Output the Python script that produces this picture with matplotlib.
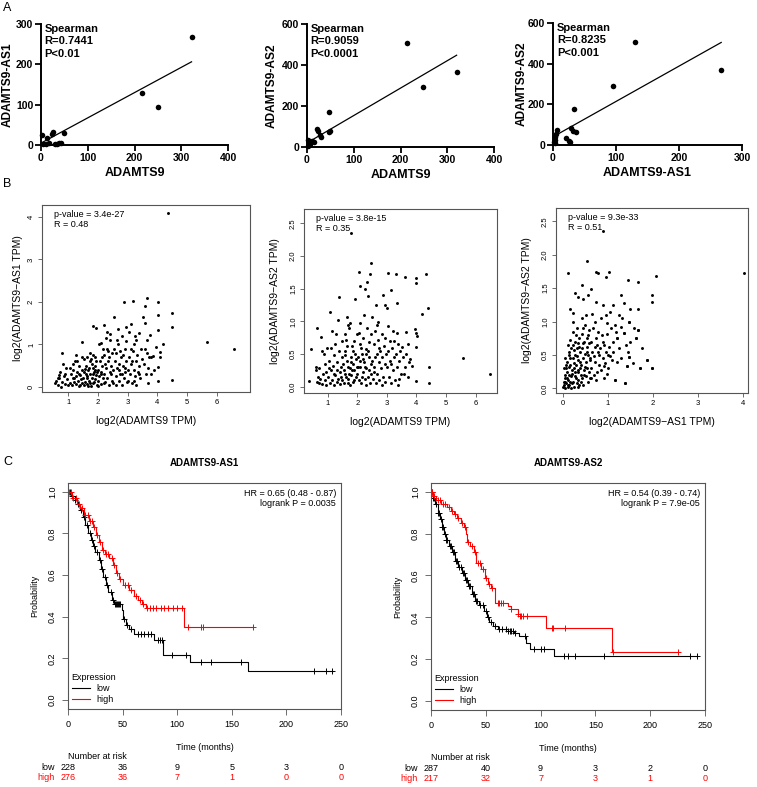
import matplotlib
matplotlib.use("Agg")
import matplotlib.pyplot as plt
from matplotlib.lines import Line2D
import numpy as np

plt.rcParams['font.family'] = ['Liberation Sans', 'DejaVu Sans']

W, H = 757, 787

# ---------------- panel A : tissue correlations (Spearman)
a1_x = [3, 5, 10, 13, 18, 24, 25, 30, 35, 39, 43, 49, 215, 251, 322]
a1_y = [25, 3, 2, 18, 4, 28, 33, 3, 3, 6, 5, 29, 129, 94, 269]
a1_fit = (0.626, 4.7)

a2_x = [1.4, 2, 3.5, 6, 7, 11, 14, 21, 23, 28, 30, 46, 46, 50, 213, 249, 320]
a2_y = [5, 33, 11, 16, 25, 29, 25, 90, 77, 57, 49, 173, 74, 77, 507, 291, 368]
a2_fit = (1.337, 19.8)

a3_x = [1.6, 2.7, 3, 3, 4, 7, 20, 25, 26.5, 29, 31, 33, 36, 94.5, 130, 267]
a3_y = [16, 41, 25, 8, 54, 74, 33, 21, 13, 82, 71, 176, 66, 291, 507, 370]
a3_fit = (1.738, 40.3)

a_stats = ["Spearman\nR=0.7441\nP<0.01",
           "Spearman\nR=0.9059\nP<0.0001",
           "Spearman\nR=0.8235\nP<0.001"]

# ---------------- panel B : GEPIA correlations (log2 TPM)
b1_pts = [
    (0.55, 0.1), (0.6, 0.15), (0.65, 0.05), (0.7, 0.2), (0.72, 0.35), (0.75, 0.0), (0.8, 0.12),
    (0.85, 0.25), (0.88, 0.08), (0.9, 0.3), (0.95, 0.18), (0.8, 0.8), (0.82, 0.55), (0.7, 0.28),
    (0.65, 0.22), (0.92, 0.45), (0.98, 0.05),
    (1.05, 0.1), (1.1, 0.3), (1.12, 0.05), (1.15, 0.2), (1.18, 0.4), (1.2, 0.12), (1.22, 0.62),
    (1.25, 0.25), (1.28, 0.08), (1.3, 0.35), (1.32, 0.15), (1.35, 0.5), (1.38, 0.02), (1.4, 0.28),
    (1.42, 0.18), (1.45, 0.7), (1.47, 0.1), (1.48, 0.4), (1.05, 0.45), (1.15, 0.55), (1.25, 0.75),
    (1.35, 0.3), (1.4, 0.05), (1.3, 0.62), (1.2, 0.22), (1.47, 1.05),
    (1.5, 0.2), (1.52, 0.05), (1.55, 0.35), (1.58, 0.12), (1.6, 0.5), (1.62, 0.25), (1.65, 0.08),
    (1.68, 0.4), (1.7, 0.15), (1.72, 0.6), (1.75, 0.3), (1.78, 0.02), (1.8, 0.22), (1.82, 0.45),
    (1.85, 0.1), (1.88, 0.35), (1.9, 0.7), (1.92, 0.18), (1.95, 0.28), (1.98, 0.05), (1.55, 0.65),
    (1.6, 0.3), (1.65, 0.2), (1.7, 0.45), (1.75, 0.1), (1.8, 0.55), (1.85, 0.3), (1.9, 0.4),
    (1.95, 0.6), (1.58, 0.42), (1.68, 0.02), (1.78, 0.65), (1.88, 0.12), (1.92, 0.5), (1.82, 1.44),
    (1.95, 1.39), (1.85, 0.75), (1.72, 0.8), (1.62, 0.7), (1.98, 0.35),
    (2.0, 0.15), (2.02, 0.4), (2.05, 0.25), (2.08, 0.6), (2.1, 0.08), (2.12, 0.35), (2.15, 0.5),
    (2.18, 0.2), (2.2, 0.75), (2.22, 0.3), (2.25, 0.12), (2.28, 0.45), (2.3, 0.9), (2.32, 0.22),
    (2.35, 0.6), (2.38, 0.05), (2.4, 0.35), (2.42, 1.1), (2.45, 0.5), (2.48, 0.15), (2.05, 1.0),
    (2.12, 1.03), (2.21, 1.45), (2.3, 1.3), (2.15, 0.7), (2.25, 0.55), (2.35, 0.85), (2.45, 0.3),
    (2.1, 0.3), (2.2, 0.1), (2.38, 0.7), (2.28, 1.15), (2.4, 1.25), (2.02, 0.02), (2.18, 0.9),
    (2.48, 0.8),
    (2.5, 0.4), (2.52, 0.1), (2.55, 1.65), (2.58, 0.6), (2.6, 0.25), (2.62, 0.8), (2.65, 0.45),
    (2.68, 1.0), (2.69, 1.36), (2.7, 0.15), (2.72, 0.55), (2.75, 0.3), (2.78, 0.7), (2.8, 1.2),
    (2.82, 0.05), (2.85, 0.5), (2.87, 2.0), (2.88, 0.2), (2.9, 0.9), (2.92, 0.35), (2.94, 1.07),
    (2.95, 0.6), (2.98, 0.12), (2.55, 0.9), (2.65, 1.1), (2.75, 0.85), (2.85, 0.75), (2.95, 1.4),
    (2.6, 0.05), (2.7, 0.4), (2.8, 0.3), (2.9, 0.45),
    (3.0, 0.4), (3.02, 0.15), (3.05, 0.7), (3.08, 0.3), (3.1, 0.55), (3.13, 1.49), (3.15, 0.1),
    (3.17, 2.02), (3.18, 0.85), (3.2, 0.4), (3.22, 1.0), (3.24, 1.19), (3.25, 0.25), (3.28, 0.6),
    (3.3, 0.05), (3.32, 0.75), (3.35, 0.35), (3.38, 0.5), (3.39, 1.27), (3.42, 0.2), (3.45, 0.9),
    (3.48, 0.65), (3.05, 1.3), (3.1, 0.9), (3.2, 0.15), (3.3, 1.1), (3.4, 0.3), (3.15, 0.6),
    (3.53, 1.64), (3.55, 0.55), (3.6, 1.9), (3.6, 1.5), (3.62, 0.3), (3.64, 2.1), (3.65, 0.8),
    (3.68, 0.1), (3.7, 0.45), (3.75, 1.23), (3.72, 0.7), (3.8, 0.7), (3.86, 0.72), (3.9, 0.4),
    (4.03, 2.0), (4.03, 1.7), (4.03, 1.35), (4.03, 0.48), (4.03, 0.15), (4.09, 0.82), (4.2, 1.0),
    (4.37, 4.1), (4.48, 0.16), (4.5, 1.75), (4.5, 1.41), (3.58, 0.9), (3.78, 0.3), (3.95, 0.95),
    (4.1, 0.7), (3.65, 1.1), (5.66, 1.05), (6.59, 0.9),
]

b2_pts = [
    (0.44, 0.57), (0.38, 0.09), (0.6, 0.3), (0.62, 0.25), (0.65, 0.08), (0.7, 0.05), (0.72, 0.28),
    (0.75, 0.12), (0.8, 0.55), (0.82, 0.04), (0.85, 0.2), (0.88, 0.5), (0.9, 0.1), (0.92, 0.35),
    (0.95, 0.02), (0.98, 0.6), (0.63, 0.9), (0.76, 0.76), (0.68, 0.15), (0.95, 0.22),
    (1.02, 0.15), (1.05, 0.4), (1.08, 0.05), (1.1, 0.25), (1.12, 0.6), (1.15, 0.1), (1.18, 0.32),
    (1.2, 0.02), (1.22, 0.48), (1.25, 0.18), (1.28, 0.8), (1.3, 0.08), (1.32, 0.38), (1.35, 0.12),
    (1.38, 0.55), (1.4, 0.22), (1.42, 0.04), (1.45, 0.3), (1.48, 0.7), (1.08, 1.15), (1.36, 1.02),
    (1.39, 1.38), (1.15, 0.85), (1.25, 0.65), (1.45, 0.15), (1.05, 0.28), (1.2, 0.2), (1.33, 0.25),
    (1.48, 0.45),
    (1.5, 0.1), (1.52, 0.35), (1.55, 0.05), (1.57, 0.55), (1.6, 0.2), (1.62, 0.72), (1.64, 1.06),
    (1.65, 0.4), (1.68, 0.12), (1.7, 0.3), (1.72, 0.9), (1.75, 0.98), (1.75, 0.02), (1.78, 0.45),
    (1.8, 0.18), (1.8, 2.36), (1.82, 0.62), (1.85, 0.08), (1.87, 0.35), (1.9, 0.25), (1.92, 1.34),
    (1.92, 0.5), (1.95, 0.15), (1.98, 0.8), (1.55, 0.25), (1.6, 0.48), (1.65, 0.62), (1.7, 0.05),
    (1.75, 0.28), (1.8, 0.38), (1.85, 0.55), (1.9, 0.1), (1.95, 0.42), (1.62, 0.15), (1.72, 0.2),
    (1.82, 0.25), (1.88, 0.7), (1.98, 0.3), (1.58, 0.8), (1.68, 0.95),
    (2.0, 0.2), (2.02, 0.45), (2.05, 0.1), (2.06, 1.75), (2.08, 0.65), (2.09, 0.98), (2.09, 1.54),
    (2.1, 0.3), (2.12, 0.05), (2.15, 0.5), (2.18, 0.22), (2.2, 0.75), (2.22, 0.38), (2.25, 0.12),
    (2.26, 1.49), (2.28, 0.58), (2.3, 0.28), (2.32, 1.6), (2.32, 0.9), (2.35, 0.15), (2.37, 1.39),
    (2.38, 0.45), (2.4, 0.68), (2.43, 1.72), (2.42, 0.05), (2.45, 0.35), (2.46, 1.9), (2.48, 0.2),
    (2.49, 1.06), (2.05, 0.82), (2.12, 0.6), (2.18, 0.42), (2.25, 0.3), (2.35, 0.55), (2.45, 0.8),
    (2.02, 0.3), (2.15, 0.15), (2.28, 0.02), (2.4, 0.25), (2.22, 1.1), (2.3, 0.5), (2.1, 0.4),
    (2.5, 0.4), (2.52, 0.12), (2.55, 0.65), (2.58, 0.3), (2.6, 0.85), (2.62, 0.05), (2.63, 1.25),
    (2.65, 0.5), (2.68, 0.2), (2.7, 0.72), (2.71, 0.99), (2.72, 0.38), (2.75, 0.1), (2.78, 0.55),
    (2.8, 0.28), (2.82, 0.8), (2.85, 0.45), (2.88, 1.4), (2.88, 0.15), (2.9, 0.62), (2.92, 0.35),
    (2.94, 1.25), (2.95, 0.08), (2.98, 0.5), (2.55, 0.22), (2.65, 0.95), (2.75, 0.6), (2.85, 0.02),
    (2.95, 0.75), (2.6, 0.45),
    (3.0, 1.2), (3.0, 0.3), (3.03, 1.74), (3.05, 0.93), (3.05, 0.55), (3.08, 0.15), (3.1, 0.7),
    (3.12, 0.4), (3.14, 1.48), (3.15, 0.05), (3.18, 0.6), (3.2, 0.25), (3.22, 0.85), (3.25, 0.45),
    (3.28, 0.1), (3.3, 1.73), (3.3, 0.5), (3.33, 1.28), (3.33, 0.82), (3.35, 0.3), (3.38, 0.65),
    (3.4, 0.12), (3.42, 0.4), (3.45, 0.55), (3.48, 0.2), (3.5, 0.61), (3.15, 0.35), (3.25, 0.7),
    (3.38, 0.02),
    (3.55, 0.45), (3.6, 1.68), (3.6, 0.3), (3.64, 0.84), (3.65, 0.5), (3.7, 0.15), (3.75, 0.38),
    (3.78, 0.43), (3.84, 0.31), (3.95, 0.89), (3.97, 1.67), (3.97, 1.59), (3.97, 0.09), (3.98, 0.61),
    (4.0, 0.82), (4.03, 0.78), (4.18, 1.11), (4.32, 1.72), (4.4, 1.2), (4.43, 0.3), (4.43, 0.06),
    (5.58, 0.44), (6.5, 0.19), (3.7, 0.65), (3.58, 0.2),
]

b3_pts = [
    (0.0, 0.02), (0.01, 0.1), (0.02, 0.05), (0.03, 0.2), (0.04, 0.0), (0.05, 0.15), (0.06, 0.3),
    (0.07, 0.08), (0.08, 0.25), (0.09, 0.4), (0.1, 0.02), (0.11, 0.12), (0.12, 0.55), (0.13, 0.05),
    (0.14, 0.2), (0.15, 0.35), (0.16, 0.1), (0.17, 0.6), (0.18, 0.0), (0.19, 0.28), (0.05, 0.45),
    (0.1, 0.65), (0.15, 0.72), (0.02, 0.3), (0.08, 0.15), (0.12, 0.32), (0.16, 0.45), (0.18, 0.18),
    (0.04, 0.1), (0.11, 0.05), (0.07, 0.35), (0.13, 0.5), (0.2, 0.08),
    (0.2, 0.22), (0.21, 0.45), (0.22, 0.1), (0.23, 0.65), (0.24, 0.3), (0.25, 0.02), (0.26, 0.5),
    (0.27, 0.18), (0.28, 0.8), (0.29, 0.35), (0.3, 0.08), (0.31, 0.6), (0.32, 0.25), (0.33, 0.42),
    (0.34, 0.12), (0.35, 0.75), (0.36, 0.05), (0.37, 0.3), (0.38, 0.55), (0.39, 0.2), (0.22, 0.85),
    (0.25, 0.38), (0.28, 0.15), (0.3, 0.48), (0.33, 0.02), (0.36, 0.62), (0.38, 0.4), (0.24, 0.58),
    (0.27, 0.7), (0.31, 0.9), (0.34, 0.28), (0.4, 0.1), (0.26, 0.25), (0.32, 0.68),
    (0.4, 0.35), (0.41, 0.6), (0.42, 0.15), (0.43, 0.82), (0.44, 0.45), (0.45, 0.05), (0.46, 0.7),
    (0.47, 0.28), (0.48, 0.95), (0.49, 0.52), (0.5, 0.18), (0.51, 0.4), (0.52, 0.75), (0.53, 0.3),
    (0.54, 0.62), (0.55, 0.1), (0.56, 0.5), (0.57, 0.88), (0.58, 0.25), (0.59, 0.42), (0.42, 1.05),
    (0.45, 0.9), (0.5, 1.1), (0.55, 0.8), (0.47, 0.2), (0.53, 0.55), (0.44, 0.68), (0.58, 0.68),
    (0.49, 0.32), (0.6, 0.15),
    (0.6, 0.45), (0.62, 0.7), (0.63, 0.3), (0.65, 0.55), (0.66, 0.9), (0.68, 0.2), (0.7, 0.62),
    (0.71, 1.0), (0.72, 0.4), (0.74, 0.75), (0.75, 0.25), (0.77, 0.55), (0.78, 0.85), (0.8, 0.35),
    (0.64, 1.12), (0.69, 0.48), (0.76, 0.65), (0.62, 0.15), (0.73, 0.12), (0.79, 0.5),
    (0.82, 0.6), (0.84, 0.28), (0.86, 0.8), (0.88, 0.45), (0.9, 0.15), (0.92, 0.65), (0.94, 0.38),
    (0.96, 0.55), (0.98, 0.82), (1.0, 0.3), (1.02, 0.62), (1.04, 0.48), (1.06, 0.9), (1.08, 0.42),
    (1.1, 0.7), (0.85, 1.05), (0.95, 1.1), (1.05, 1.15), (0.88, 0.7), (1.0, 0.5),
    (1.12, 0.55), (1.15, 0.12), (1.18, 0.85), (1.2, 0.4), (1.21, 0.76), (1.25, 0.6), (1.28, 0.92),
    (1.3, 0.45), (1.36, 0.83), (1.38, 0.08), (1.4, 0.65), (1.42, 0.33), (1.45, 0.55), (1.47, 0.47),
    (1.47, 0.99), (1.5, 0.7), (1.55, 0.38), (1.62, 0.75), (1.66, 0.88), (1.71, 0.3), (1.75, 0.6),
    (1.86, 0.43), (1.97, 0.3), (1.32, 1.05), (1.25, 1.1), (1.15, 0.95), (1.58, 0.9),
    (0.89, 2.35), (0.52, 1.9), (0.11, 1.72), (0.74, 1.74), (0.78, 1.72), (0.95, 1.67), (1.03, 1.74),
    (2.06, 1.68), (1.44, 1.62), (1.66, 1.59), (4.04, 1.72), (0.41, 1.54), (0.61, 1.49), (0.26, 1.43),
    (0.32, 1.37), (0.45, 1.34), (0.56, 1.39), (1.29, 1.39), (0.74, 1.29), (0.89, 1.25), (1.12, 1.25),
    (1.36, 1.28), (1.97, 1.4), (1.97, 1.3), (1.66, 1.19), (1.49, 1.19), (0.15, 1.19), (0.21, 1.13),
    (0.22, 0.99), (1.47, 0.99), (0.97, 0.98), (1.66, 0.88), (1.62, 0.75), (1.21, 0.76), (1.36, 0.83),
    (1.86, 0.43), (1.97, 0.3), (1.71, 0.3), (1.42, 0.33), (1.47, 0.47), (1.15, 0.12), (1.38, 0.08),
    (0.97, 0.22), (0.92, 0.33),
]

b_stats = ["p-value = 3.4e-27\nR = 0.48",
           "p-value = 3.8e-15\nR = 0.35",
           "p-value = 9.3e-33\nR = 0.51"]

# ---------------- panel C : Kaplan-Meier (time in months, survival probability)
km_ticks = [0, 50, 100, 150, 200, 250]

c1_low_t = [0, 3, 6, 8, 11, 14, 16, 18, 21, 23, 25, 28, 30, 32, 35, 37, 40, 42, 49, 50, 53, 56,
            60, 79, 87, 112, 165]
c1_low_s = [1.0, 0.98, 0.96, 0.94, 0.91, 0.88, 0.84, 0.80, 0.77, 0.74, 0.71, 0.67, 0.63, 0.59,
            0.55, 0.52, 0.48, 0.46, 0.43, 0.39, 0.36, 0.34, 0.315, 0.29, 0.216, 0.184, 0.139]
c1_low_end = 243
c1_low_cens = [2, 4, 6, 9, 12, 15, 17, 20, 22, 24, 27, 29, 31, 34, 36, 39, 41, 43, 44, 45, 46, 47,
               48, 51, 54, 58, 64, 67, 70, 73, 76, 82, 84, 86, 95, 108, 122, 131, 158, 225, 236, 242]

c1_high_t = [0, 4, 8, 11, 15, 19, 23, 26, 28, 31, 34, 38, 41, 44, 47, 50, 56, 60, 64, 68, 71, 106]
c1_high_s = [1.0, 0.97, 0.94, 0.92, 0.89, 0.86, 0.83, 0.79, 0.76, 0.72, 0.70, 0.68, 0.65, 0.61,
             0.58, 0.55, 0.53, 0.50, 0.48, 0.46, 0.44, 0.349]
c1_high_end = 169
c1_high_cens = [1, 3, 5, 7, 10, 13, 16, 18, 20, 22, 24, 27, 29, 32, 35, 37, 40, 42, 45, 48, 52, 55,
                58, 62, 66, 69, 72, 75, 78, 81, 85, 88, 92, 96, 100, 104, 110, 122, 124, 169]

c2_low_t = [0, 2, 4, 6, 8, 10, 12, 14, 16, 19, 22, 25, 28, 31, 34, 37, 40, 44, 48, 51, 53, 57, 61,
            70, 76, 80, 87, 90, 112]
c2_low_s = [1.0, 0.97, 0.94, 0.90, 0.87, 0.83, 0.80, 0.77, 0.74, 0.71, 0.67, 0.64, 0.61, 0.58,
            0.55, 0.51, 0.48, 0.46, 0.43, 0.40, 0.38, 0.36, 0.345, 0.335, 0.325, 0.31, 0.275,
            0.248, 0.213]
c2_low_end = 243
c2_low_cens = [1, 2, 3, 5, 6, 7, 9, 10, 11, 13, 14, 15, 17, 18, 20, 21, 23, 24, 26, 27, 29, 30, 32,
               33, 35, 36, 38, 39, 41, 42, 45, 47, 50, 52, 55, 58, 62, 65, 68, 70, 72, 73, 75, 77,
               86, 94, 100, 103, 121, 125, 131, 158, 236, 243]

c2_high_t = [0, 2, 5, 9, 15, 18, 21, 24, 27, 30, 32, 33, 36, 39, 41, 46, 49, 52, 55, 58, 70, 73,
             79, 81, 105, 165]
c2_high_s = [1.0, 0.98, 0.96, 0.94, 0.925, 0.91, 0.895, 0.875, 0.85, 0.83, 0.80, 0.76, 0.74, 0.71,
             0.66, 0.63, 0.59, 0.56, 0.54, 0.47, 0.455, 0.44, 0.415, 0.408, 0.347, 0.235]
c2_high_end = 225
c2_high_cens = [1, 3, 6, 8, 11, 13, 16, 19, 22, 25, 28, 31, 34, 37, 40, 43, 45, 47, 50, 53, 56, 61,
                62, 64, 66, 73, 79, 81, 82, 84, 88, 110, 111, 122, 166, 225]

c1_risk_low = [228, 36, 9, 5, 3, 0]
c1_risk_high = [276, 36, 7, 1, 0, 0]
c2_risk_low = [287, 40, 9, 3, 2, 0]
c2_risk_high = [217, 32, 7, 3, 1, 0]

c_titles = ["ADAMTS9-AS1", "ADAMTS9-AS2"]
c_stats = ["HR = 0.65 (0.48 - 0.87)\nlogrank P = 0.0035",
           "HR = 0.54 (0.39 - 0.74)\nlogrank P = 7.9e-05"]

RED = "#ff0000"


def rect(l, t, r, b):
    # pixel box -> figure fraction
    return [l / W, 1 - b / H, (r - l) / W, (b - t) / H]


fig = plt.figure(figsize=(W / 100, H / 100), dpi=100)


def corr_panel(box, x, y, fit, xmax, ymax, xstep, ystep, xlabel, ylabel, stats, ylab_x):
    ax = fig.add_axes(rect(*box))
    ax.scatter(x, y, s=16, color="black", clip_on=False, zorder=3, linewidths=0)
    lx = np.array([min(x), max(x)])
    ax.plot(lx, fit[0] * lx + fit[1], color="black", lw=0.9)
    ax.set_xlim(0, xmax)
    ax.set_ylim(0, ymax)
    ax.set_xticks(np.arange(0, xmax + 1, xstep))
    ax.set_yticks(np.arange(0, ymax + 1, ystep))
    for s in ("top", "right"):
        ax.spines[s].set_visible(False)
    for s in ("left", "bottom"):
        ax.spines[s].set_linewidth(1.4)
    ax.tick_params(direction="out", length=4, width=1.3, labelsize=7.5, pad=1.5)
    plt.setp(ax.get_xticklabels() + ax.get_yticklabels(), fontweight="bold")
    ax.set_xlabel(xlabel, fontsize=9, fontweight="bold", labelpad=3)
    ax.set_ylabel(ylabel, fontsize=8.6, fontweight="bold")
    # right edge of the rotated label, pixels -> axes fraction
    ax.yaxis.set_label_coords((ylab_x - box[0]) / (box[2] - box[0]), 0.5)
    ax.text(0.02, 1.0, stats, transform=ax.transAxes, ha="left", va="top",
            fontsize=8, fontweight="bold", linespacing=1.3)
    return ax


corr_panel((41, 24, 228, 145), a1_x, a1_y, a1_fit, 400, 300, 100, 100,
           "ADAMTS9", "ADAMTS9-AS1", a_stats[0], 14)
corr_panel((307, 24, 494, 147), a2_x, a2_y, a2_fit, 400, 600, 100, 200,
           "ADAMTS9", "ADAMTS9-AS2", a_stats[1], 278)
corr_panel((553, 23, 742, 145), a3_x, a3_y, a3_fit, 300, 600, 100, 200,
           "ADAMTS9-AS1", "ADAMTS9-AS2", a_stats[2], 528)


def gepia_panel(box, pts, xlim, ylim, xticks, yticks, yfmt, xlabel, ylabel, stats, ylab_x):
    ax = fig.add_axes(rect(*box))
    p = np.array(pts)
    ax.scatter(p[:, 0], p[:, 1], s=4.5, color="black", linewidths=0)
    ax.set_xlim(*xlim)
    ax.set_ylim(*ylim)
    ax.set_xticks(xticks)
    ax.set_yticks(yticks)
    ax.set_yticklabels([yfmt.format(v) for v in yticks], rotation=90, va="center")
    for s in ax.spines.values():
        s.set_linewidth(0.8)
        s.set_color("#555555")
    ax.tick_params(length=3, width=0.6, labelsize=5.5, pad=2, color="#555555")
    ax.set_xlabel(xlabel, fontsize=7.5, labelpad=7)
    ax.set_ylabel(ylabel, fontsize=7.5)
    ax.yaxis.set_label_coords((ylab_x - box[0]) / (box[2] - box[0]), 0.5)
    ax.text(0.06, 0.975, stats, transform=ax.transAxes, ha="left", va="top",
            fontsize=6.5, linespacing=1.15)
    return ax


gepia_panel((42, 205, 250, 392), b1_pts, (0.12, 7.12), (-0.12, 4.28),
            [1, 2, 3, 4, 5, 6], [0, 1, 2, 3, 4], "{:g}",
            "log2(ADAMTS9 TPM)", "log2(ADAMTS9\u2212AS1 TPM)", b_stats[0], 23)
gepia_panel((304, 209, 497, 393), b2_pts, (0.2, 6.72), (-0.096, 2.72),
            [1, 2, 3, 4, 5, 6], [0, 0.5, 1.0, 1.5, 2.0, 2.5], "{:.1f}",
            "log2(ADAMTS9 TPM)", "log2(ADAMTS9\u2212AS2 TPM)", b_stats[1], 280)
gepia_panel((556, 208, 748, 393), b3_pts, (-0.16, 4.12), (-0.07, 2.7),
            [0, 1, 2, 3, 4], [0, 0.5, 1.0, 1.5, 2.0, 2.5], "{:.1f}",
            "log2(ADAMTS9\u2212AS1 TPM)", "log2(ADAMTS9\u2212AS2 TPM)", b_stats[2], 532)


def km_curve(ax, t, s, end, cens, color):
    tt = list(t) + [end]
    ss = list(s) + [s[-1]]
    ax.step(tt, ss, where="post", color=color, lw=0.8)
    idx = np.searchsorted(t, cens, side="right") - 1
    ax.plot(cens, np.array(s)[idx], "+", color=color, ms=4.5, mew=0.7)


def km_panel(box, curves, title, stats, risk_low, risk_high, row_x):
    ax = fig.add_axes(rect(*box))
    for c in curves:
        km_curve(ax, *c)
    ax.set_xlim(0, 250)
    ax.set_ylim(-0.043, 1.042)
    ax.set_xticks(km_ticks)
    yt = [0.0, 0.2, 0.4, 0.6, 0.8, 1.0]
    ax.set_yticks(yt)
    ax.set_yticklabels(["{:.1f}".format(v) for v in yt], rotation=90, va="center")
    for s in ax.spines.values():
        s.set_linewidth(0.8)
        s.set_color("#555555")
    ax.tick_params(length=4, width=0.6, labelsize=6.5, pad=4, color="#555555")
    ax.set_xlabel("Time (months)", fontsize=6.5, labelpad=10)
    ax.set_ylabel("Probability", fontsize=6.5, labelpad=6)
    ax.set_title(title, fontsize=7, fontweight="bold", pad=12)
    ax.text(0.982, 0.975, stats, transform=ax.transAxes, ha="right", va="top",
            fontsize=6.5, linespacing=1.2)
    handles = [Line2D([], [], color="black", lw=0.8),
               Line2D([], [], color=RED, lw=0.8)]
    ax.legend(handles, ["low", "high"], title="Expression", loc="lower left",
              bbox_to_anchor=(-0.01, -0.005), frameon=False, fontsize=6.5,
              title_fontsize=6.5, alignment="left", handlelength=2.0,
              labelspacing=0.2, borderaxespad=0.3, handletextpad=0.8)
    trans = ax.get_xaxis_transform()
    ax.text(0, -0.208, "Number at risk", transform=trans, ha="left", va="center", fontsize=6.5)
    ax.text(row_x, -0.257, "low", transform=trans, ha="right", va="center", fontsize=6.5)
    ax.text(row_x, -0.301, "high", transform=trans, ha="right", va="center", fontsize=6.5,
            color=RED)
    for x, lo, hi in zip(km_ticks, risk_low, risk_high):
        ax.text(x, -0.257, str(lo), transform=trans, ha="center", va="center", fontsize=6.5)
        ax.text(x, -0.301, str(hi), transform=trans, ha="center", va="center", fontsize=6.5,
                color=RED)
    return ax


km_panel((68, 483, 341, 709),
         [(c1_low_t, c1_low_s, c1_low_end, c1_low_cens, "black"),
          (c1_high_t, c1_high_s, c1_high_end, c1_high_cens, RED)],
         c_titles[0], c_stats[0], c1_risk_low, c1_risk_high, -12)
km_panel((431, 483, 705, 710),
         [(c2_low_t, c2_low_s, c2_low_end, c2_low_cens, "black"),
          (c2_high_t, c2_high_s, c2_high_end, c2_high_cens, RED)],
         c_titles[1], c_stats[1], c2_risk_low, c2_risk_high, -12)

# panel letters
for letter, (px, py) in zip("ABC", [(3, 2), (3, 178), (3, 456)]):
    fig.text(px / W, 1 - py / H, letter, fontsize=9, ha="left", va="top")

fig.savefig("out.png", dpi=100)
